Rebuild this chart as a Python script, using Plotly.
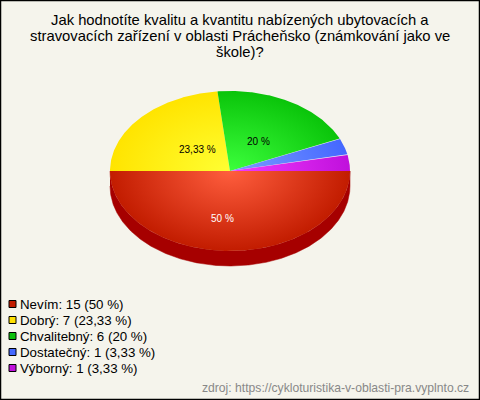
import math
import plotly.graph_objects as go

title_lines = ["Jak hodnotíte kvalitu a kvantitu nabízených ubytovacích a",
               "stravovacích zařízení v oblasti Prácheňsko (známkování jako ve",
               "škole)?"]
categories = ["Nevím", "Dobrý", "Chvalitebný", "Dostatečný", "Výborný"]
counts = [15, 7, 6, 1, 1]
percents = ["50", "23,33", "20", "3,33", "3,33"]
centre_colors = ["#FF5E3E", "#FFFF33", "#3CFF3C", "#7C9CFF", "#F23CFF"]
edge_colors = ["#C21C00", "#FFE400", "#0AC40A", "#4468FF", "#C010DC"]
legend_colors = ["#C21C00", "#FFE000", "#0CC00C", "#4468FF", "#C010DC"]
side_color = "#A60000"
bg = "#F5F4EC"
source = "zdroj: https://cykloturistika-v-oblasti-pra.vyplnto.cz"
# on-slice labels: (slice index, x, y, text colour)
slice_labels = [(0, 222.5, 218, "#FFFFFF"), (1, 197.5, 149, "#000000"), (2, 258.5, 141, "#000000")]

cx, cy, rx, ry, depth = 230, 171, 120, 80, 15
fig = go.Figure()


def arc(a0, a1, dy=0):
    n = max(2, int(abs(a1 - a0)) * 2 + 1)
    pts = [a0 + (a1 - a0) * i / (n - 1) for i in range(n)]
    return ([cx + rx * math.cos(math.radians(a)) for a in pts],
            [cy + dy - ry * math.sin(math.radians(a)) for a in pts])


# side wall
x1, y1 = arc(180, 360, depth)
x2, y2 = arc(360, 180, 0)
fig.add_trace(go.Scatter(x=x1 + x2, y=y1 + y2, mode="lines", fill="toself", fillcolor=side_color,
                         line=dict(width=0.5, color=side_color), hoverinfo="skip", showlegend=False))

# top slices, clockwise on screen from 3 o'clock through 6 o'clock
total = sum(counts)
angle = 360
for cat, c, pct, col0, col1 in zip(categories, counts, percents, centre_colors, edge_colors):
    end = angle - 360 * c / total
    ax, ay = arc(angle, end)
    # zero-area spikes make every slice share the full ellipse's box, so gradients share a centre
    sx = [cx, cx - rx, cx, cx + rx, cx, cx, cx, cx, cx]
    sy = [cy, cy, cy, cy, cy, cy - ry, cy, cy + ry, cy]
    fig.add_trace(go.Scatter(
        x=[cx] + ax + sx, y=[cy] + ay + sy, mode="lines", fill="toself",
        fillgradient=dict(type="radial", colorscale=[[0, col0], [1, col1]]),
        line=dict(width=0), name=cat, hoverinfo="skip", showlegend=False))
    angle = end

# legend
leg_y = [304 + 16 * i for i in range(len(categories))]
fig.add_trace(go.Scatter(
    x=[12.5] * len(categories), y=leg_y, mode="markers",
    marker=dict(symbol="square", size=7, color=legend_colors, line=dict(color="#000000", width=1)),
    hoverinfo="skip", showlegend=False))
for cat, c, pct, y in zip(categories, counts, percents, leg_y):
    fig.add_annotation(x=20, y=y, text=f"{cat}: {c} ({pct} %)", showarrow=False, xanchor="left",
                       yanchor="middle", xshift=-2, font=dict(size=13.3, color="#000000"))

for i, line in enumerate(title_lines):
    fig.add_annotation(x=239.5, y=20 + 16 * i, text=line, showarrow=False, xanchor="center",
                       yanchor="middle", font=dict(size=14.8, color="#000000"))

for i, x, y, col in slice_labels:
    fig.add_annotation(x=x, y=y, text=f"{percents[i]} %", showarrow=False, xanchor="center",
                       yanchor="middle", font=dict(size=10, color=col))

fig.add_annotation(x=471, y=388, text=source, showarrow=False, xanchor="right", yanchor="middle",
                   font=dict(size=12.15, color="#888888"))

fig.update_layout(
    width=480, height=400, margin=dict(l=0, r=0, t=0, b=0), paper_bgcolor=bg, plot_bgcolor=bg,
    font=dict(family="Liberation Sans, Arial, sans-serif"), showlegend=False,
    xaxis=dict(range=[0, 480], visible=False, fixedrange=True),
    yaxis=dict(range=[400, 0], visible=False, fixedrange=True),
    shapes=[dict(type="rect", x0=0.5, y0=0.5, x1=479.5, y1=399.5, line=dict(color="#000000", width=1.5), layer="above")],
)
fig.write_html("out.html", config=dict(displayModeBar=False),
               post_script="document.body.style.margin='0';document.documentElement.style.overflow='hidden';")
